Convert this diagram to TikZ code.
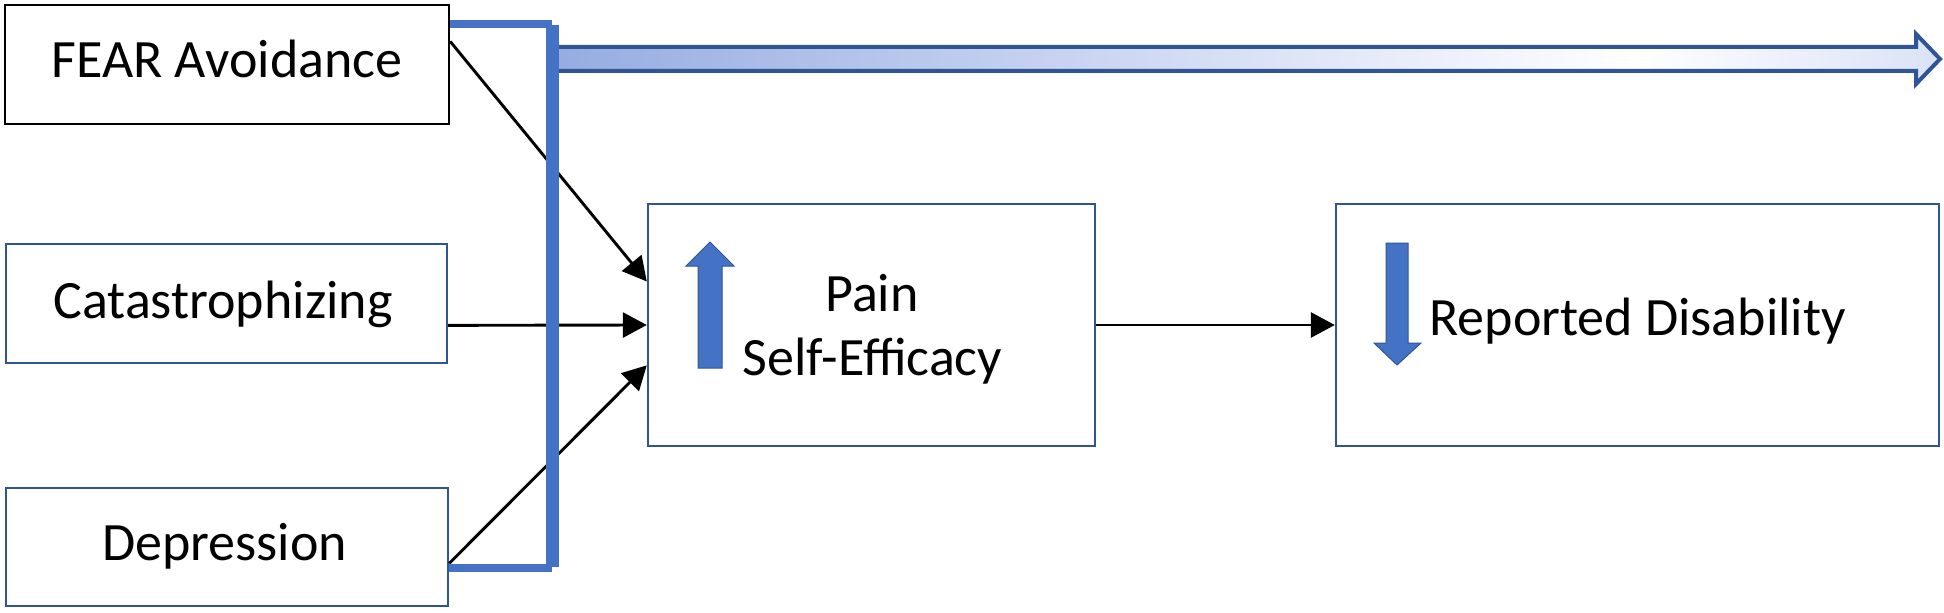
\documentclass[tikz,border=0pt]{standalone}
\usepackage{fontspec}
\setmainfont{Carlito}
\usetikzlibrary{arrows.meta,calc}
\definecolor{boxblue}{RGB}{47,85,151}
\definecolor{accent}{RGB}{68,114,196}
\definecolor{arrL}{RGB}{150,172,225}
\definecolor{arrR}{RGB}{218,226,245}
\pgfdeclarehorizontalshading{bigarrowshade}{100bp}{color(0bp)=(arrL); color(25bp)=(arrL); color(64bp)=(white); color(75bp)=(arrR); color(100bp)=(arrR)}
\begin{document}
\begin{tikzpicture}[x=0.5bp, y=-0.5bp,
  box/.style={draw=boxblue, line width=1.2bp, inner sep=0, rectangle},
  txt/.style={font=\fontsize{27bp}{32bp}\selectfont, inner sep=0, anchor=base},
  conn/.style={line width=1.45bp, draw=black, -{Triangle[length=12bp,width=12.5bp]}},
  bracketline/.style={draw=accent, line width=4bp},
  bracketbar/.style={draw=accent, line width=6.5bp},
  updown/.style={fill=accent, draw=boxblue, line width=0.5bp}]
\useasboundingbox (0,0) rectangle (1944,613);

% boxes
\node[box, draw=black, minimum width=222bp, minimum height=59.5bp] (fear) at (227,64.5) {};
\node[box, minimum width=220.5bp, minimum height=59.5bp] (cat) at (226.5,303.5) {};
\node[box, minimum width=221bp, minimum height=59bp] (dep) at (227,547) {};
\node[box, minimum width=223.5bp, minimum height=121bp] (pain) at (871.5,325) {};
\node[box, minimum width=301.5bp, minimum height=121bp] (rep) at (1637.5,325) {};

% texts
\node[txt] (fearT) at (227,78) {FEAR Avoidance};
\node[txt] (catT) at (223,318) {Catastrophizing};
\node[txt] (depT) at (224.5,560) {Depression};
\node[txt] (painT) at (872,311) {Pain};
\node[txt] (seT) at (872.5,375) {Self-Efficacy};
\node[txt, anchor=base west] (repT) at (1429,335) {Reported Disability};

% big gradient arrow
\shade[shading=bigarrowshade, draw=boxblue, line width=2bp, line join=miter]
  (553,47) -- (1916,47) -- (1916,34) -- (1940,59) -- (1916,84) -- (1916,71) -- (553,71) -- cycle;

% connectors
\draw[conn] ($(fear.north east)!0.31!(fear.south east)$) -- ($(pain.north west)!0.322!(pain.south west)$);
\draw[conn] ($(cat.north east)!0.68!(cat.south east)$) -- (pain.west);
\draw[conn] ($(dep.north east)!0.636!(dep.south east)$) -- ($(pain.north west)!0.665!(pain.south west)$);
\draw[conn] (pain.east) -- (rep.west);

% bracket
\draw[bracketline] (fear.east |- 0,24.5) -- (552,24.5);
\draw[bracketbar] (552,25) -- (552,567);
\draw[bracketline] (dep.east |- 0,567.5) -- (552,567.5);

% up / down arrows
\filldraw[updown] (698,368) -- (698,266) -- (686,266) -- (710,242) -- (734,266) -- (722,266) -- (722,368) -- cycle;
\filldraw[updown] (1386,243) -- (1408,243) -- (1408,343) -- (1421,343) -- (1397,365) -- (1374,343) -- (1386,343) -- cycle;
\end{tikzpicture}
\end{document}
